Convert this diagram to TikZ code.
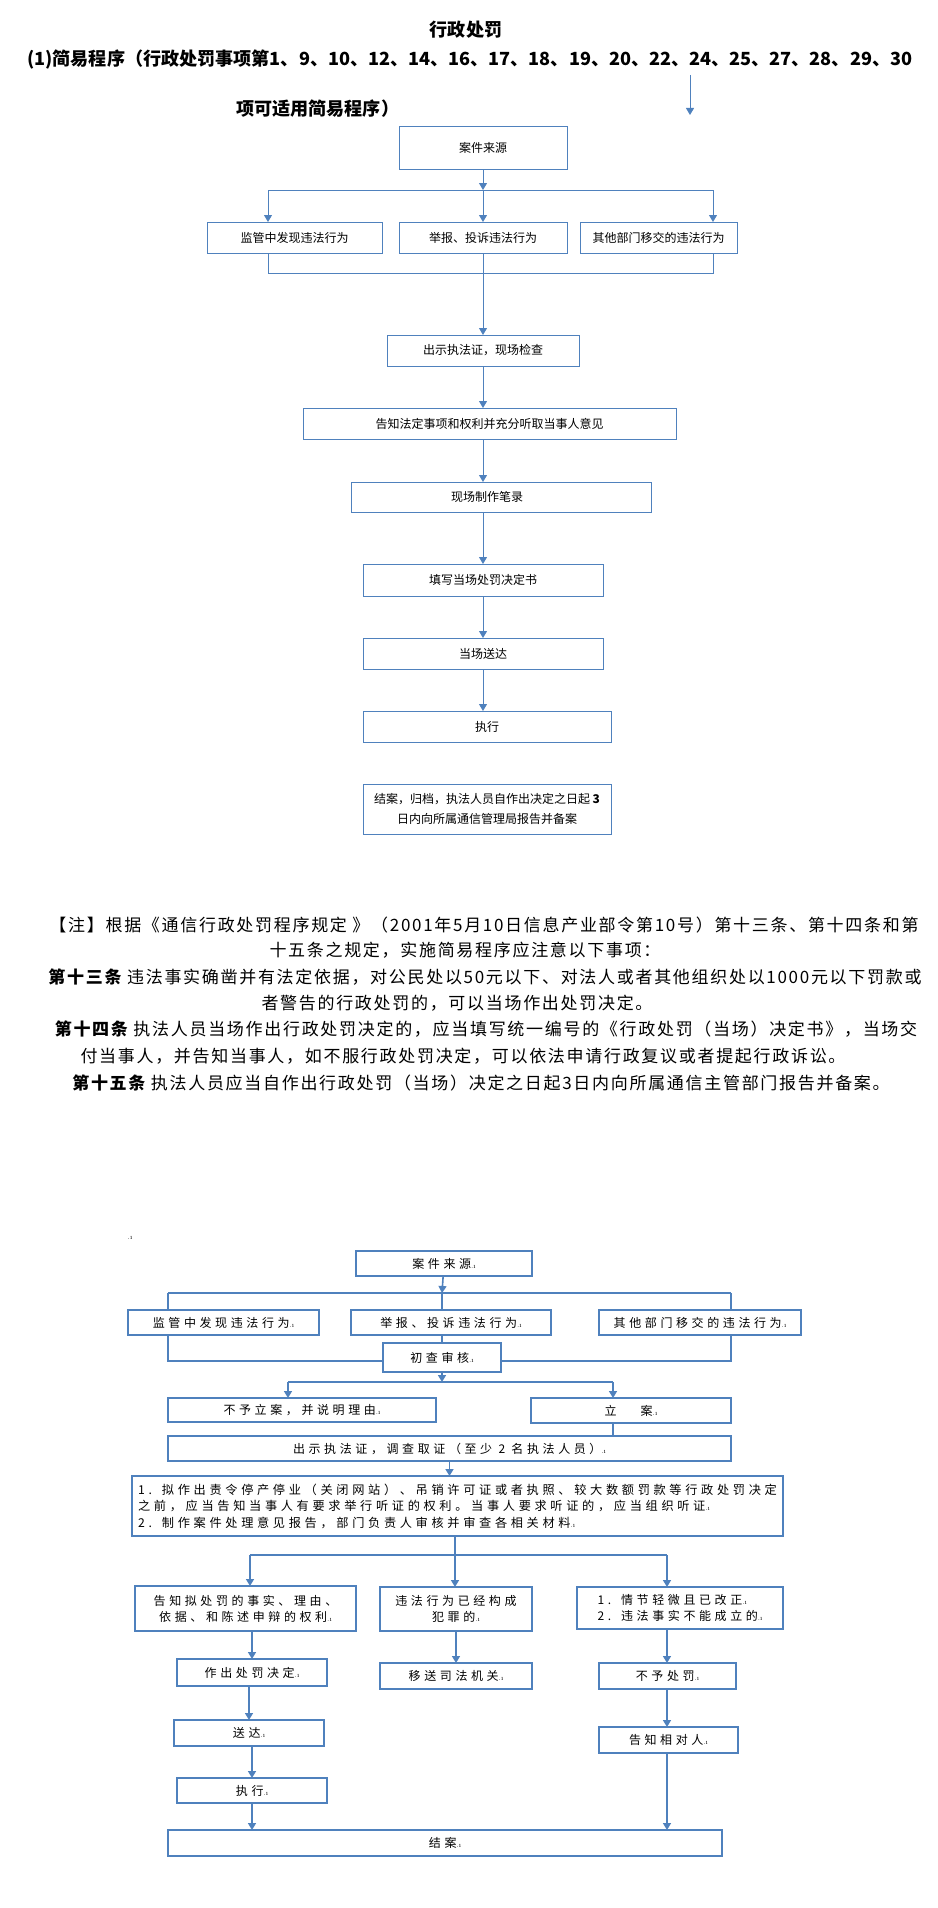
\documentclass[tikz,border=0pt]{standalone}
\usepackage{fontspec}
\newfontfamily\cjk{Noto Sans CJK SC}
\newfontfamily\cjkwide{Noto Sans CJK SC}[LetterSpace=30]
\newfontfamily\cjknote{Noto Sans CJK SC}[LetterSpace=10]
\usetikzlibrary{arrows.meta,positioning}
\definecolor{wordblue}{RGB}{79,129,189}
\newcommand{\enter}{{\rmfamily\fontsize{7}{7}\selectfont .ı}}

\begin{document}
\begin{tikzpicture}[x=1pt,y=-1pt,>={Triangle[length=7pt,width=8pt]},thin]
\tikzstyle{box}=[draw=wordblue,line width=1pt,inner sep=0pt,outer sep=0pt,font=\cjk\fontsize{12}{20}\selectfont,align=center]
\tikzstyle{wbox}=[draw=wordblue,line width=1.6pt,inner sep=0pt,outer sep=0pt,font=\cjkwide\fontsize{12}{16}\selectfont,align=center]
\tikzstyle{link}=[draw=wordblue,line width=1pt]
\tikzstyle{arr}=[link,->]
\tikzstyle{wlink}=[draw=wordblue,line width=1.6pt]
\tikzstyle{warr}=[wlink,->]
\tikzstyle{head}=[font=\cjk\bfseries\fontsize{18.1}{18.1}\selectfont,inner sep=0pt]
\tikzstyle{note}=[font=\cjknote\fontsize{17}{17}\selectfont,inner sep=0pt]

\useasboundingbox (0,0) rectangle (937,1908);

% heading
\node[head]              (title) at (466,30)  {行政处罚};
\node[head,anchor=west]  (rule)  at (27,60)   {(1)简易程序（行政处罚事项第1、9、10、12、14、16、17、18、19、20、22、24、25、27、28、29、30};
\node[head,anchor=west]  (rule2) at (236,109) {项可适用简易程序）};
\coordinate (ta) at (690,75);
\coordinate (tb) at (690,115);
\draw[arr] (ta) -- (tb);

% simple procedure
\node[box,minimum width=168pt,minimum height=42pt] (src)     at (483,148)   {案件来源};
\node[box,minimum width=175pt,minimum height=31pt] (found)   at (294.5,237.5) {监管中发现违法行为};
\node[box,minimum width=168pt,minimum height=31pt] (report)  at (483,237.5) {举报、投诉违法行为};
\node[box,minimum width=157pt,minimum height=31pt] (moved)   at (658.5,237.5) {其他部门移交的违法行为};
\node[box,minimum width=192pt,minimum height=31pt] (show)    at (483,350.5) {出示执法证，现场检查};
\node[box,minimum width=373pt,minimum height=31pt] (inform)  at (489.5,423.5) {告知法定事项和权利并充分听取当事人意见};
\node[box,minimum width=300pt,minimum height=30pt] (record)  at (501,497)   {\hspace*{-28pt}现场制作笔录};
\node[box,minimum width=240pt,minimum height=32pt] (fill)    at (483,580)   {填写当场处罚决定书};
\node[box,minimum width=240pt,minimum height=31pt] (deliver) at (483,653.5) {当场送达};
\node[box,minimum width=248pt,minimum height=31pt] (exec)    at (487,726.5) {执行};
\node[box,minimum width=248pt,minimum height=50pt] (close)   at (487,809)   {结案，归档，执法人员自作出决定之日起 \textbf{3}\\日内向所属通信管理局报告并备案};

\coordinate (ts) at (483,190);
\coordinate (tl) at (268,190);
\coordinate (tr) at (713,190);
\coordinate (ml) at (268,273);
\coordinate (mr) at (713,273);

\draw[arr] (src) -- (ts);
\draw[link] (tl) -- (tr);
\draw[arr] (tl) -- (tl |- found.north);
\draw[arr] (ts) -- (report);
\draw[arr] (tr) -- (tr |- moved.north);
\draw[link] (ml |- found.south) -- (ml) -- (mr) -- (mr |- moved.south);
\draw[arr] (report) -- (show);
\draw[arr] (show.south) -- (show.south |- inform.north);
\draw[arr] (show.south |- inform.south) -- (show.south |- record.north);
\draw[arr] (show.south |- record.south) -- (fill);
\path (fill) edge[arr] (deliver);
\draw[arr] (deliver.south) -- (deliver.south |- exec.north);

% note
\node[note] (n1) at (484,925)  {【注】根据《通信行政处罚程序规定 》（2001年5月10日信息产业部令第10号）第十三条、第十四条和第};
\node[note] (n2) at (465,950)  {十五条之规定，实施简易程序应注意以下事项：};
\node[note] (n3) at (485,977)  {{\bfseries 第十三条} 违法事实确凿并有法定依据，对公民处以50元以下、对法人或者其他组织处以1000元以下罚款或};
\node[note] (n4) at (457,1003) {者警告的行政处罚的，可以当场作出处罚决定。};
\node[note] (n5) at (486,1029) {{\bfseries 第十四条} 执法人员当场作出行政处罚决定的，应当填写统一编号的《行政处罚（当场）决定书》，当场交};
\node[note] (n6) at (463,1056) {付当事人，并告知当事人，如不服行政处罚决定，可以依法申请行政复议或者提起行政诉讼。};
\node[note] (n7) at (481,1083) {{\bfseries 第十五条} 执法人员应当自作出行政处罚（当场）决定之日起3日内向所属通信主管部门报告并备案。};

% general procedure
\node[font=\rmfamily\fontsize{7}{7}\selectfont] (mark) at (130,1238) {.ı};
\node[wbox,minimum width=176pt,minimum height=25pt] (src2)   at (444,1263.5)  {案件来源\enter};
\node[wbox,minimum width=191pt,minimum height=25pt] (found2) at (223.5,1322.5) {监管中发现违法行为\enter};
\node[wbox,minimum width=200pt,minimum height=25pt] (report2) at (451,1322.5) {举报、投诉违法行为\enter};
\node[wbox,minimum width=202pt,minimum height=25pt] (moved2) at (700,1322.5)  {其他部门移交的违法行为\enter};
\node[wbox,minimum width=118pt,minimum height=29pt] (check)  at (442,1357.5)  {初查审核\enter};
\node[wbox,minimum width=268pt,minimum height=24pt] (nocase) at (302,1410)    {不予立案，并说明理由\enter};
\node[wbox,minimum width=200pt,minimum height=25pt] (docase) at (631,1410.5)  {立\hspace{24pt}案\enter};
\node[wbox,minimum width=563pt,minimum height=25pt] (show2)  at (449.5,1448.5) {出示执法证，调查取证（至少 2 名执法人员）\enter};
\node[wbox,minimum width=651pt,minimum height=60pt,align=left,font=\cjkwide\fontsize{12.2}{16.5}\selectfont] (hear) at (457.5,1506)
  {1.\hspace{10pt}拟作出责令停产停业（关闭网站）、吊销许可证或者执照、较大数额罚款等行政处罚决定\\
   之前，应当告知当事人有要求举行听证的权利。当事人要求听证的，应当组织听证\enter\\
   2.\hspace{10pt}制作案件处理意见报告，部门负责人审核并审查各相关材料\enter};
\node[wbox,minimum width=221pt,minimum height=45pt] (notify) at (245.5,1608.5) {告知拟处罚的事实、理由、\\依据、和陈述申辩的权利\enter};
\node[wbox,minimum width=152pt,minimum height=44pt] (crime)  at (456,1609)    {违法行为已经构成\\犯罪的\enter};
\node[wbox,minimum width=206pt,minimum height=42pt,align=left] (minor) at (680,1608)
  {1.\hspace{10pt}情节轻微且已改正\enter\\2.\hspace{10pt}违法事实不能成立的\enter};
\node[wbox,minimum width=150pt,minimum height=27pt] (decide)  at (252,1672.5)  {作出处罚决定\enter};
\node[wbox,minimum width=152pt,minimum height=26pt] (transfer) at (456,1676)   {移送司法机关\enter};
\node[wbox,minimum width=137pt,minimum height=26pt] (nopen)   at (667.5,1676)  {不予处罚\enter};
\node[wbox,minimum width=150pt,minimum height=26pt] (serve)   at (249,1733)    {送达\enter};
\node[wbox,minimum width=139pt,minimum height=26pt] (tell)    at (668.5,1740)  {告知相对人\enter};
\node[wbox,minimum width=150pt,minimum height=25pt] (exec2)   at (252,1790.5)  {执行\enter};
\node[wbox,minimum width=554pt,minimum height=26pt] (end)     at (445,1843)    {结案\enter};

\coordinate (bs) at (442,1293);
\coordinate (bl) at (168,1293);
\coordinate (br) at (731,1293);
\coordinate (jl) at (168,1361);
\coordinate (jr) at (731,1361);
\coordinate (cs) at (442,1382);
\coordinate (cl) at (288,1382);
\coordinate (cr) at (613,1382);
\coordinate (ds) at (455,1555);
\coordinate (dl) at (250,1555);
\coordinate (dr) at (667,1555);

\draw[warr] (src2) -- (bs);
\draw[wlink] (bl) -- (br);
\draw[wlink] (bl) -- (bl |- found2.north);
\draw[wlink] (bs) -- (bs |- report2.north);
\draw[wlink] (br) -- (br |- moved2.north);
\draw[wlink] (jl |- found2.south) -- (jl) -- (jl -| check.west);
\draw[wlink] (jr |- moved2.south) -- (jr) -- (jr -| check.east);
\draw[wlink] (bs |- report2.south) -- (bs |- check.north);
\draw[warr] (check) -- (cs);
\draw[wlink] (cl) -- (cr);
\draw[warr] (cl) -- (cl |- nocase.north);
\draw[warr] (cr) -- (cr |- docase.north);
\draw[wlink] (cr |- docase.south) -- (cr |- show2.north);
\draw[warr] (show2.south) -- (show2.south |- hear.north);
\draw[wlink] (ds |- hear.south) -- (ds);
\draw[wlink] (dl) -- (dr);
\draw[warr] (dl) -- (dl |- notify.north);
\draw[warr] (ds) -- (ds |- crime.north);
\draw[warr] (dr) -- (dr |- minor.north);
\draw[warr] (notify.south -| decide) -- (decide);
\draw[warr] (crime) -- (transfer);
\draw[warr] (dr |- minor.south) -- (dr |- nopen.north);
\draw[warr] (decide.south -| serve) -- (serve);
\draw[warr] (serve.south -| exec2) -- (exec2);
\draw[warr] (exec2) -- (exec2 |- end.north);
\draw[warr] (dr |- nopen.south) -- (dr |- tell.north);
\draw[warr] (dr |- tell.south) -- (dr |- end.north);
\end{tikzpicture}
\end{document}
